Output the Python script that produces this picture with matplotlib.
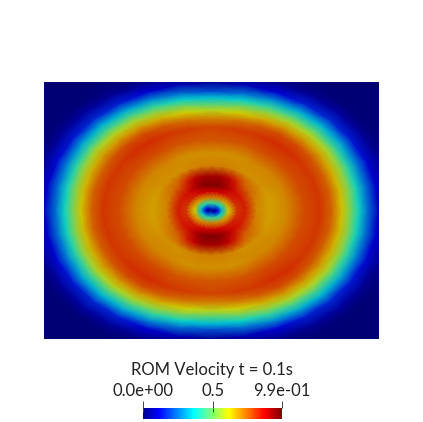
import numpy as np
import matplotlib
matplotlib.use("Agg")
import matplotlib.pyplot as plt
from matplotlib.colors import LinearSegmentedColormap, Normalize
from matplotlib.cm import ScalarMappable

plt.rcParams['font.family'] = ['Lato', 'DejaVu Sans']

title = "ROM Velocity t = 0.1s"
vmin = 0.0
vmax = 0.99
cbar_ticks = [0.0, 0.5, 0.99]
cbar_labels = ["0.0e+00", "0.5", "9.9e-01"]

# velocity, along spokes of the elliptic rings
radii = [0.0, 0.03, 0.06, 0.1, 0.15, 0.2, 0.27, 0.35, 0.45, 0.55, 0.65, 0.72, 0.78, 0.83, 0.88, 0.93, 1.0, 1.08, 1.14, 1.2, 1.3, 1.5]
v_00 = [0.02, 0.09, 0.32, 0.62, 0.80, 0.83, 0.70, 0.67, 0.70, 0.77, 0.80, 0.74, 0.63, 0.51, 0.38, 0.25, 0.09, 0.01, 0.0, 0.0, 0.0, 0.0]
v_11 = [0.02, 0.10, 0.33, 0.63, 0.80, 0.83, 0.71, 0.67, 0.70, 0.77, 0.80, 0.75, 0.64, 0.52, 0.39, 0.26, 0.10, 0.02, 0.0, 0.0, 0.0, 0.0]
v_22 = [0.02, 0.12, 0.35, 0.65, 0.81, 0.83, 0.72, 0.68, 0.70, 0.77, 0.80, 0.75, 0.65, 0.54, 0.41, 0.28, 0.12, 0.03, 0.0, 0.0, 0.0, 0.0]
v_33 = [0.02, 0.15, 0.37, 0.66, 0.82, 0.84, 0.74, 0.69, 0.70, 0.77, 0.80, 0.76, 0.67, 0.57, 0.44, 0.31, 0.14, 0.04, 0.01, 0.0, 0.0, 0.0]
v_45 = [0.02, 0.17, 0.39, 0.67, 0.83, 0.85, 0.76, 0.69, 0.70, 0.77, 0.81, 0.77, 0.68, 0.58, 0.46, 0.33, 0.16, 0.05, 0.01, 0.0, 0.0, 0.0]
v_56 = [0.02, 0.20, 0.41, 0.69, 0.84, 0.89, 0.82, 0.69, 0.70, 0.77, 0.81, 0.77, 0.68, 0.57, 0.45, 0.32, 0.15, 0.04, 0.01, 0.0, 0.0, 0.0]
v_67 = [0.02, 0.22, 0.43, 0.70, 0.86, 0.95, 0.89, 0.70, 0.69, 0.76, 0.80, 0.75, 0.65, 0.54, 0.42, 0.29, 0.11, 0.02, 0.0, 0.0, 0.0, 0.0]
v_78 = [0.02, 0.24, 0.44, 0.71, 0.87, 0.99, 0.93, 0.71, 0.69, 0.76, 0.79, 0.72, 0.61, 0.50, 0.37, 0.24, 0.07, 0.01, 0.0, 0.0, 0.0, 0.0]
v_90 = [0.02, 0.25, 0.45, 0.72, 0.88, 0.99, 0.93, 0.71, 0.69, 0.76, 0.78, 0.70, 0.58, 0.46, 0.34, 0.20, 0.04, 0.0, 0.0, 0.0, 0.0, 0.0]

# quarter of the field, mirrored round the centre
quarter = np.array([v_00, v_11, v_22, v_33, v_45, v_56, v_67, v_78, v_90])
values = np.vstack([quarter, quarter[-2::-1], quarter[1:], quarter[-2::-1]])
angles = np.deg2rad(np.arange(values.shape[0]) * 11.25)
R, A = np.meshgrid(radii, angles)
X = R * np.cos(A)
Y = R * np.sin(A)

stops = [0.0, 0.111, 0.365, 0.492, 0.619, 0.746, 0.873, 1.0]
colors = [(0, 0, 0.5625), (0, 0, 1), (0, 1, 1), (0.5, 1, 0.5), (1, 1, 0), (1, 0.5, 0), (1, 0, 0), (0.5, 0, 0)]
cmap = LinearSegmentedColormap.from_list("pv_jet", list(zip(stops, colors)), N=256)
# the lit surface is a bit darker than the bar
dim = [tuple(0.82 * c for c in col) for col in colors]
dim[0] = (0, 0, 0.45)
dim[-1] = colors[-1]
cmap_dim = LinearSegmentedColormap.from_list("pv_jet_dim", list(zip(stops, dim)), N=256)

W, H = 423, 422
fig = plt.figure(figsize=(W / 100, H / 100), dpi=100)
ax = fig.add_axes([44 / W, 1 - 339 / H, 335 / W, 257 / H])
ax.pcolormesh(X, Y, values, cmap=cmap_dim, vmin=vmin, vmax=vmax, shading='gouraud')
ax.set_xlim(-1.0, 1.0)
ax.set_ylim(-1.0, 1.0)
ax.axis('off')

cax = fig.add_axes([143 / W, 1 - 419 / H, 139 / W, 11 / H])
cb = fig.colorbar(ScalarMappable(Normalize(vmin, vmax), cmap), cax=cax, orientation='horizontal')
cb.outline.set_visible(False)
cax.xaxis.set_ticks_position('top')
cb.set_ticks(cbar_ticks)
cb.set_ticklabels(cbar_labels)
cax.tick_params(axis='x', direction='out', length=5, width=0.7, color='#444444',
                labelsize=12, labelcolor='#222222', pad=1.5)
cax.vlines(cbar_ticks, 0.65, 1.0, color='#444444', linewidth=0.7)
fig.text(212 / W, 1 - 370 / H, title, fontsize=12, color='#222222', ha='center', va='center')

fig.savefig("out.png", dpi=100)
